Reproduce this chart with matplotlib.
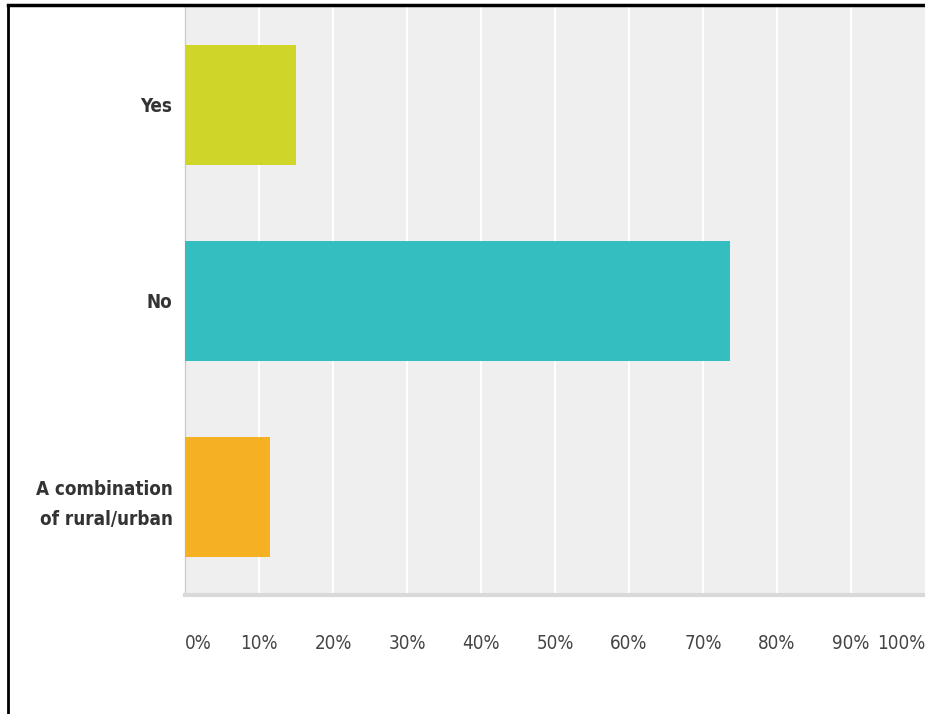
import matplotlib.pyplot as plt
from matplotlib.lines import Line2D

categories = ["Yes", "No", "A combination\nof rural/urban"]
values = [15.0, 73.6, 11.5]
colors = ["#d0d52a", "#35bec0", "#f6b023"]
tick_vals = list(range(0, 101, 10))
tick_labels = [str(t) + "%" for t in tick_vals]

plt.rcParams['font.family'] = ['DejaVu Sans']
plt.rcParams['font.stretch'] = 'condensed'

fig = plt.figure(figsize=(9.25, 7.14), dpi=100)
ax = fig.add_axes([0.2, 1 - 595 / 714, 0.8, 588 / 714])
ax.set_facecolor("#efefef")

y = [2, 1, 0]
ax.barh(y, values, height=0.617, color=colors, zorder=3)
ax.set_ylim(-0.5, 2.5)
ax.set_xlim(0, 100)

for t in tick_vals[1:-1]:
    ax.axvline(t, color="white", lw=1.5, zorder=1)

ax.set_yticks(y)
ax.set_yticklabels(categories, fontsize=13.5, fontweight="bold", color="#333333",
                   linespacing=1.75)
ax.tick_params(axis="y", length=0, pad=9)

ax.set_xticks(tick_vals)
ax.set_xticklabels(tick_labels, fontsize=13.5, color="#444444")
ax.tick_params(axis="x", length=0, pad=28)
lbls = ax.get_xticklabels()
lbls[0].set_ha("left")
lbls[-1].set_ha("right")

for s in ["top", "right"]:
    ax.spines[s].set_visible(False)
ax.spines["left"].set_color("#cccccc")
ax.spines["left"].set_linewidth(1)
ax.spines["bottom"].set_color("#d9d9d9")
ax.spines["bottom"].set_linewidth(3)

# outer black frame (left and top edges)
fig.add_artist(Line2D([7.5 / 925, 7.5 / 925], [0, 1 - 5 / 714], color="black", lw=2))
fig.add_artist(Line2D([7.5 / 925, 1], [1 - 5 / 714, 1 - 5 / 714], color="black", lw=2.5))

plt.savefig("out.png", dpi=100)
